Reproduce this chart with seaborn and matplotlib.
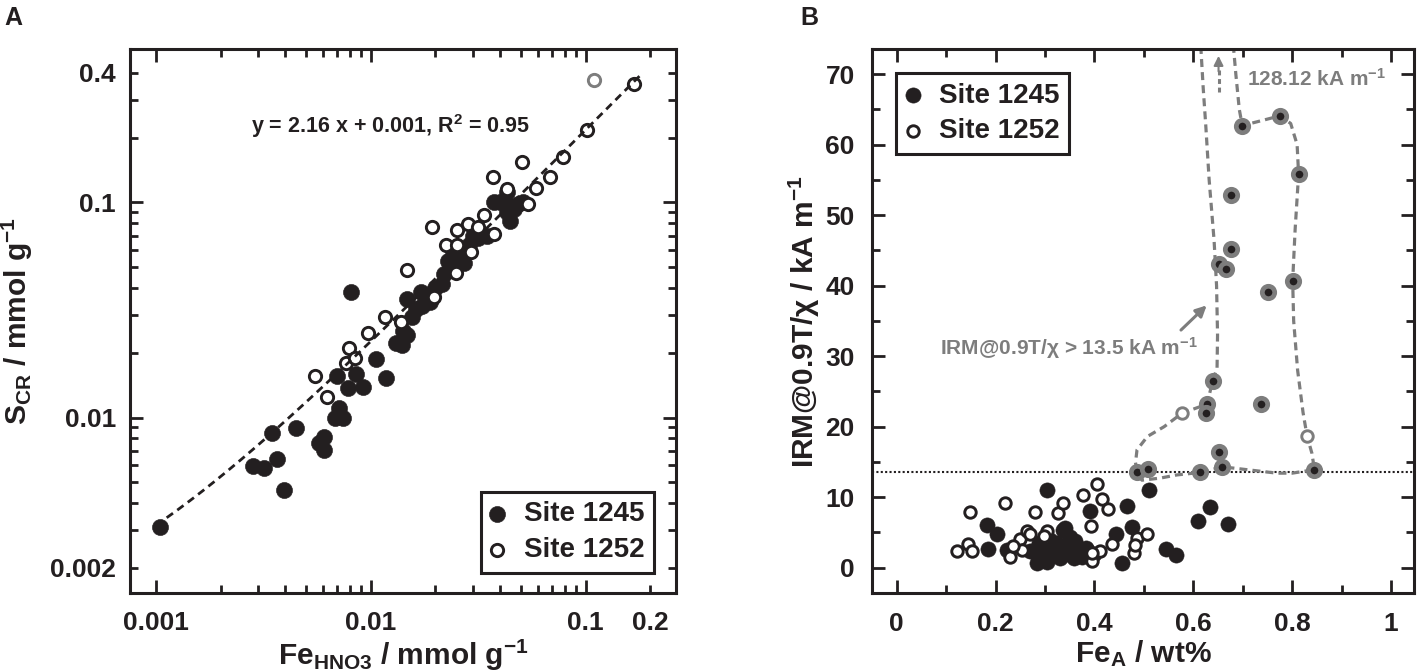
import numpy as np
import matplotlib
matplotlib.use("Agg")
import matplotlib.pyplot as plt
from matplotlib.ticker import FixedLocator, FuncFormatter
import seaborn as sns

# ---------------- Panel A data (Fe_HNO3 vs S_CR, mmol/g) ----------------
a1245_fe = [0.00104, 0.00282, 0.00319, 0.00348, 0.00366, 0.00395, 0.00450, 0.00573, 0.00603, 0.00603,
            0.00681, 0.00741, 0.00708, 0.00695, 0.00780, 0.00858, 0.00919, 0.00810, 0.01063, 0.01175,
            0.0131, 0.01397, 0.01468, 0.01468, 0.01556, 0.01616, 0.0171, 0.01725, 0.01884, 0.02154,
            0.0220, 0.0228, 0.0242, 0.0256, 0.0273, 0.0287, 0.0316, 0.0348, 0.0376, 0.0422,
            0.0433, 0.0447, 0.0464, 0.0486, 0.0511, 0.0430, 0.0401, 0.0299, 0.0263, 0.0200, 0.0141]
a1245_scr = [0.00310, 0.00593, 0.00582, 0.00851, 0.00640, 0.00462, 0.00896, 0.00760, 0.00811, 0.00703,
             0.00993, 0.00993, 0.01112, 0.01552, 0.01374, 0.01600, 0.01384, 0.0382, 0.0188, 0.01528,
             0.0221, 0.0217, 0.0242, 0.0354, 0.0294, 0.0318, 0.0385, 0.0330, 0.0343, 0.0416,
             0.0466, 0.0532, 0.0568, 0.0539, 0.0522, 0.0632, 0.0683, 0.0695, 0.1007, 0.100,
             0.0899, 0.0820, 0.0927, 0.0981, 0.100, 0.1112, 0.1007, 0.0695, 0.0575, 0.040, 0.0253]
a1252_fe = [0.00552, 0.00626, 0.00764, 0.00794, 0.00841, 0.00970, 0.01166, 0.01386, 0.01479, 0.0192,
            0.0196, 0.0224, 0.0251, 0.0249, 0.0253, 0.0284, 0.0293, 0.0316, 0.0335, 0.0369,
            0.0376, 0.0430, 0.0505, 0.0541, 0.0585, 0.0681, 0.0788, 0.1019, 0.168]
a1252_scr = [0.01552, 0.01248, 0.01795, 0.0210, 0.0190, 0.0248, 0.0294, 0.0278, 0.0484, 0.0766,
             0.0364, 0.0632, 0.0632, 0.0470, 0.0743, 0.0795, 0.0586, 0.0766, 0.0875, 0.1306,
             0.0715, 0.1156, 0.1535, 0.0981, 0.1165, 0.1306, 0.163, 0.2163, 0.3556]
a_gray_fe = [0.109]
a_gray_scr = [0.370]
fit_slope = 2.16
fit_intercept = 0.001
fit_fe_range = [0.001, 0.184]
a_xtick_vals = [0.001, 0.01, 0.1, 0.2]
a_xtick_labels = ["0.001", "0.01", "0.1", "0.2"]
a_ytick_vals = [0.002, 0.01, 0.1, 0.4]
a_ytick_labels = ["0.002", "0.01", "0.1", "0.4"]

# ---------------- Panel B data (Fe_A wt% vs IRM@0.9T/chi) ----------------
b1245_fe = [0.182, 0.203, 0.184, 0.222, 0.304, 0.391, 0.465, 0.443, 0.475, 0.511,
            0.545, 0.565, 0.455, 0.610, 0.634, 0.671, 0.283, 0.304, 0.331, 0.337,
            0.351, 0.287, 0.317, 0.344, 0.364, 0.385, 0.398, 0.273, 0.297, 0.358,
            0.324, 0.270, 0.382, 0.340, 0.360, 0.310, 0.330, 0.350, 0.375, 0.300]
b1245_irm = [6.0, 4.8, 2.7, 2.5, 11.0, 8.0, 8.7, 4.8, 5.7, 11.0,
             2.6, 1.8, 0.6, 6.6, 8.6, 6.2, 0.6, 0.85, 1.3, 5.3,
             4.4, 3.5, 2.5, 2.0, 2.0, 2.5, 2.0, 2.3, 3.0, 1.4,
             3.5, 2.4, 2.8, 5.6, 3.8, 3.9, 2.9, 2.8, 1.5, 1.9]
b1245_hi_fe = [0.699, 0.776, 0.813, 0.677, 0.677, 0.651, 0.667, 0.801, 0.751, 0.639,
               0.628, 0.625, 0.737, 0.651, 0.486, 0.509, 0.614, 0.659, 0.845]
b1245_hi_irm = [62.7, 64.1, 55.8, 52.9, 45.2, 43.1, 42.4, 40.7, 39.1, 26.5,
                23.2, 21.9, 23.2, 16.4, 13.6, 14.0, 13.5, 14.3, 13.9]
b1252_fe = [0.122, 0.145, 0.152, 0.149, 0.219, 0.229, 0.250, 0.263, 0.280, 0.300,
            0.304, 0.327, 0.337, 0.377, 0.405, 0.415, 0.428, 0.393, 0.395, 0.412,
            0.435, 0.253, 0.480, 0.486, 0.507, 0.482, 0.236, 0.270, 0.297, 0.394]
b1252_irm = [2.3, 3.4, 2.3, 7.9, 9.1, 1.5, 4.0, 5.25, 7.9, 4.2,
             5.25, 7.7, 9.1, 10.3, 11.9, 9.7, 8.3, 5.9, 1.0, 2.4,
             3.4, 2.5, 2.1, 4.2, 4.7, 3.2, 3.1, 4.7, 4.5, 2.1]
b1252_hi_fe = [0.577, 0.830]
b1252_hi_irm = [21.9, 18.7]
env_fe = [0.615, 0.620, 0.625, 0.632, 0.642, 0.647, 0.649, 0.648, 0.639, 0.628,
          0.577, 0.541, 0.507, 0.486, 0.483, 0.486, 0.496, 0.533, 0.567, 0.614,
          0.659, 0.708, 0.769, 0.800, 0.845, 0.840, 0.830, 0.822, 0.811, 0.803,
          0.801, 0.806, 0.813, 0.810, 0.797, 0.776, 0.699, 0.693, 0.686, 0.681]
env_irm = [74.0, 68.0, 62.9, 55.0, 46.4, 40.0, 33.0, 28.3, 26.5, 23.2,
           21.9, 20.0, 18.6, 16.7, 14.9, 13.6, 12.4, 12.7, 13.15, 13.5,
           14.3, 13.9, 13.4, 13.4, 13.9, 16.2, 18.7, 22.0, 28.0, 35.0,
           40.7, 48.0, 55.8, 60.0, 63.0, 64.1, 62.7, 65.0, 70.0, 74.0]
threshold_irm = 13.5
max_value_fe = 0.651
max_value_label = "128.12 kA m$^{-1}$"
b_xticks = [0, 0.2, 0.4, 0.6, 0.8, 1.0]
b_xtick_labels = ["0", "0.2", "0.4", "0.6", "0.8", "1"]
b_yticks = [0, 10, 20, 30, 40, 50, 60, 70]

# ---------------- style ----------------
sns.set_style("ticks")
DARK = "#231f20"
GRAY = "#7d7d7d"
plt.rcParams.update({
    "font.family": ["Liberation Sans", "DejaVu Sans"],
    "font.weight": "bold",
    "axes.labelweight": "bold",
    "mathtext.fontset": "custom",
    "mathtext.rm": "Liberation Sans:bold",
    "mathtext.it": "Liberation Sans:bold",
    "mathtext.bf": "Liberation Sans:bold",
    "mathtext.sf": "Liberation Sans:bold",
    "text.color": DARK,
    "axes.edgecolor": DARK,
    "xtick.color": DARK,
    "ytick.color": DARK,
    "axes.linewidth": 2.2,
})

W, H = 1417, 671
fig = plt.figure(figsize=(W / 100, H / 100), dpi=100)
axA = fig.add_axes([130 / W, 1 - 593 / H, 546 / W, 544 / H])
axB = fig.add_axes([872 / W, 1 - 593 / H, 542 / W, 544 / H])

for ax in (axA, axB):
    for sp in ax.spines.values():
        sp.set_linewidth(2.2)
        sp.set_color(DARK)
        sp.set_visible(True)

# ---------------- Panel A ----------------
axA.set_xscale("log")
axA.set_yscale("log")

fit_x = np.geomspace(fit_fe_range[0], fit_fe_range[1], 200)
fit_y = fit_slope * fit_x + fit_intercept

sns.scatterplot(x=a1245_fe, y=a1245_scr, ax=axA, s=135, color=DARK, edgecolor=DARK,
                linewidth=0.4, label="Site 1245", zorder=3)
sns.scatterplot(x=a1252_fe, y=a1252_scr, ax=axA, s=78, color="white", edgecolor=DARK,
                linewidth=2.1, label="Site 1252", zorder=4)
sns.scatterplot(x=a_gray_fe, y=a_gray_scr, ax=axA, s=78, color="white", edgecolor=GRAY,
                linewidth=2.1, zorder=4, legend=False)
axA.plot(fit_x, fit_y, color=DARK, lw=2.0, ls=(0, (2.8, 1.9)), zorder=5)

axA.set_xlim(0.000757, 0.2637)
axA.set_ylim(0.00153, 0.516)

x_major = [0.001, 0.01, 0.1]
x_minor = [m * d for d in (0.001, 0.01) for m in range(2, 10)] + [0.2]
y_major = [0.01, 0.1]
y_minor = [m * 0.001 for m in range(2, 10)] + [m * 0.01 for m in range(2, 10)] + [0.2, 0.3, 0.4]


def make_fmt(vals, labels):
    def f(v, pos):
        for tv, tl in zip(vals, labels):
            if abs(np.log10(v) - np.log10(tv)) < 1e-6:
                return tl
        return ""
    return FuncFormatter(f)


axA.xaxis.set_major_locator(FixedLocator(x_major))
axA.xaxis.set_minor_locator(FixedLocator(x_minor))
axA.yaxis.set_major_locator(FixedLocator(y_major))
axA.yaxis.set_minor_locator(FixedLocator(y_minor))
for axis, vals, labs in ((axA.xaxis, a_xtick_vals, a_xtick_labels), (axA.yaxis, a_ytick_vals, a_ytick_labels)):
    axis.set_major_formatter(make_fmt(vals, labs))
    axis.set_minor_formatter(make_fmt(vals, labs))

axA.tick_params(axis="both", which="both", direction="in", top=True, right=True,
                width=2.0, labelsize=19, colors=DARK)
axA.tick_params(which="major", length=9.5)
axA.tick_params(which="minor", length=5.5)
axA.tick_params(axis="x", which="both", pad=13)
axA.tick_params(axis="y", which="both", pad=10)

axA.text(0.2216, 0.858, "y = 2.16 x + 0.001, R$^{2}$ = 0.95", transform=axA.transAxes,
         ha="left", va="center", fontsize=15.5, color=DARK)

legA = axA.legend(loc="lower right", bbox_to_anchor=(0.960, 0.037), borderaxespad=0,
                  frameon=True, fancybox=False, edgecolor=DARK, framealpha=1, fontsize=20,
                  borderpad=0.35, handlelength=0.5, handletextpad=0.7, labelspacing=0.35)
legA.get_frame().set_linewidth(2.2)
for t in legA.get_texts():
    t.set_color(DARK)

# ---------------- Panel B ----------------
axB.plot(env_fe, env_irm, color=GRAY, lw=2.3, ls=(0, (2.5, 1.6)), zorder=2,
         solid_joinstyle="round", dash_joinstyle="round")
axB.axhline(threshold_irm, color=DARK, lw=1.5, ls=(0, (1, 1.1)), zorder=1)

sns.scatterplot(x=b1245_fe, y=b1245_irm, ax=axB, s=120, color=DARK, edgecolor=DARK,
                linewidth=0.4, label="Site 1245", zorder=3)
sns.scatterplot(x=b1252_fe, y=b1252_irm, ax=axB, s=68, color="white", edgecolor=DARK,
                linewidth=2.1, label="Site 1252", zorder=4)
sns.scatterplot(x=b1245_hi_fe, y=b1245_hi_irm, ax=axB, s=80, color=DARK, edgecolor=GRAY,
                linewidth=3.4, zorder=5, legend=False)
sns.scatterplot(x=b1252_hi_fe, y=b1252_hi_irm, ax=axB, s=68, color="white", edgecolor=GRAY,
                linewidth=2.1, zorder=5, legend=False)

# arrow indicating off-scale value
axB.plot([max_value_fe, max_value_fe], [67.4, 70.8], color=GRAY, lw=2.2, ls=(0, (1.6, 1.2)), zorder=2)
axB.annotate("", xy=(max_value_fe, 72.6), xytext=(max_value_fe, 70.4),
             arrowprops=dict(arrowstyle="-|>", color=GRAY, lw=1.5, mutation_scale=14,
                             shrinkA=0, shrinkB=0))
axB.text(0.709, 69.3, max_value_label, ha="left", va="center", fontsize=15, color=GRAY)

axB.text(0.087, 31.1, "IRM@0.9T/χ > 13.5 kA m$^{-1}$", ha="left", va="center",
         fontsize=15, color=GRAY)
axB.annotate("", xy=(0.627, 37.2), xytext=(0.575, 33.7),
             arrowprops=dict(arrowstyle="-|>", color=GRAY, lw=2.2, mutation_scale=16,
                             shrinkA=0, shrinkB=0))

axB.set_xlim(-0.0502, 1.0465)
axB.set_ylim(-3.6, 73.57)
axB.xaxis.set_major_locator(FixedLocator(b_xticks))
axB.set_xticklabels(b_xtick_labels)
axB.xaxis.set_minor_locator(FixedLocator([0.1, 0.3, 0.5, 0.7, 0.9]))
axB.yaxis.set_major_locator(FixedLocator(b_yticks))
axB.yaxis.set_minor_locator(FixedLocator([5, 15, 25, 35, 45, 55, 65]))
axB.tick_params(axis="both", which="both", direction="in", top=True, right=True,
                width=2.0, labelsize=19, colors=DARK)
axB.tick_params(which="major", length=9.5)
axB.tick_params(which="minor", length=5.5)
axB.tick_params(axis="x", which="both", pad=14)
axB.tick_params(axis="y", which="both", pad=12.5)

legB = axB.legend(loc="upper left", bbox_to_anchor=(0.044, 0.956), borderaxespad=0,
                  frameon=True, fancybox=False, edgecolor=DARK, framealpha=1, fontsize=20,
                  borderpad=0.35, handlelength=0.5, handletextpad=0.7, labelspacing=0.35)
legB.get_frame().set_linewidth(2.2)
for t in legB.get_texts():
    t.set_color(DARK)

# ---------------- axis labels & panel letters ----------------
axA.set_xlabel("")
axA.set_ylabel("")
axB.set_xlabel("")
axB.set_ylabel("")
lab_fs = 21.5
fig.text(403 / W, 1 - 665 / H, "Fe$_{\\mathrm{HNO3}}$ / mmol g$^{-1}$", ha="center", va="baseline",
         fontsize=lab_fs, color=DARK)
fig.text(1143 / W, 1 - 662 / H, "Fe$_{\\mathrm{A}}$ / wt%", ha="center", va="baseline",
         fontsize=lab_fs, color=DARK)
fig.text(27 / W, 1 - 321 / H, "S$_{\\mathrm{CR}}$ / mmol g$^{-1}$", rotation=90, rotation_mode="anchor",
         ha="center", va="baseline", fontsize=lab_fs, color=DARK)
fig.text(814 / W, 1 - 322 / H, "IRM@0.9T/χ / kA m$^{-1}$", rotation=90, rotation_mode="anchor",
         ha="center", va="baseline", fontsize=lab_fs, color=DARK)
fig.text(4 / W, 1 - 25 / H, "A", ha="left", va="baseline", fontsize=18, color=DARK)
fig.text(800 / W, 1 - 25 / H, "B", ha="left", va="baseline", fontsize=18, color=DARK)

fig.savefig("out.png", dpi=100)
